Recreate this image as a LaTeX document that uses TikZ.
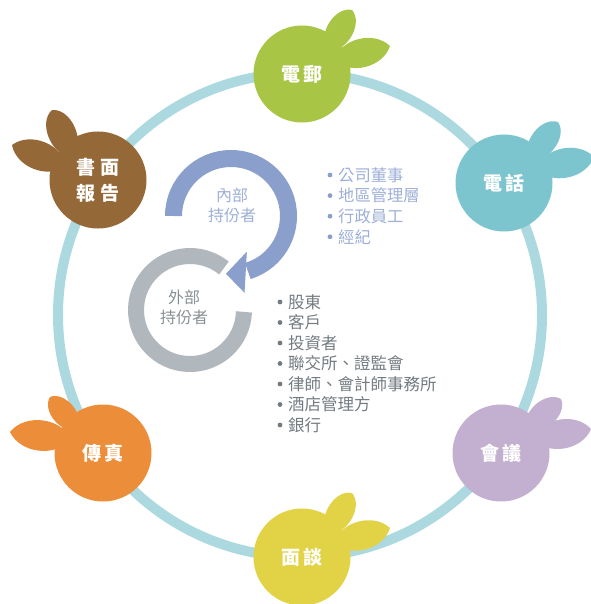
\documentclass[tikz,border=0pt]{standalone}
\usepackage{fontspec}
\newfontfamily\cjk{Noto Sans CJK TC}
\usetikzlibrary{calc}
\definecolor{ringc}{HTML}{ACD9E0}
\definecolor{cgreen}{HTML}{A8C545}
\definecolor{cteal}{HTML}{7DC5CE}
\definecolor{clav}{HTML}{C3AFD0}
\definecolor{cyel}{HTML}{E2D245}
\definecolor{corange}{HTML}{EC8E39}
\definecolor{cbrown}{HTML}{946837}
\definecolor{bluearcc}{HTML}{8A9FCB}
\definecolor{grayarcc}{HTML}{B1B8BD}
\definecolor{bluetext}{HTML}{9DAFD6}
\definecolor{graytext}{HTML}{737B80}
\newcommand\leafat[5]{%
  \fill[#1] ($(#2)+(#3)$) to[bend left=#5] ($(#2)+(#4)$) to[bend left=#5] ($(#2)+(#3)$);}
\begin{document}
\begin{tikzpicture}[x=1pt,y=-1pt,
  hub/.style={circle, minimum size=97pt, inner sep=0pt, text=white,
    font=\cjk\bfseries\fontsize{19}{26}\selectfont, align=center},
  innerlbl/.style={inner sep=0pt, align=center, text=bluetext,
    font=\cjk\fontsize{16}{20}\selectfont},
  outerlbl/.style={inner sep=0pt, align=center, text=graytext!85,
    font=\cjk\fontsize{16}{20}\selectfont},
  bluelist/.style={inner sep=0pt, anchor=west, text=bluetext,
    font=\cjk\fontsize{16.3}{20}\selectfont},
  graylist/.style={inner sep=0pt, anchor=west, text=graytext,
    font=\cjk\fontsize{16.5}{20}\selectfont}]
\useasboundingbox (0,0) rectangle (590,604);
% big ring
\coordinate (rc) at (300,315);
\draw[ringc, line width=10pt] (rc) circle[radius=242];
% hub centres
\coordinate (cE) at (302,74);
\coordinate (cT) at (504,183);
\coordinate (cM) at (501,453);
\coordinate (cI) at (302,557);
\coordinate (cF) at (103,453);
\coordinate (cR) at (98,180);
% leaves (right side)
\leafat{cgreen}{cE}{26,-24}{50,-64}{72}
\leafat{cgreen}{cE}{32,-14}{88,-28}{58}
\leafat{cteal}{cT}{26,-24}{54,-61}{72}
\leafat{cteal}{cT}{32,-14}{90,-26}{58}
\leafat{clav}{cM}{26,-24}{60,-54}{72}
\leafat{clav}{cM}{32,-14}{90,-24}{58}
\leafat{cyel}{cI}{26,-24}{50,-64}{72}
\leafat{cyel}{cI}{32,-14}{88,-29}{58}
% leaves (left side)
\leafat{corange}{cF}{-26,-24}{-53,-56}{72}
\leafat{corange}{cF}{-32,-14}{-93,-21}{58}
\leafat{cbrown}{cR}{-26,-24}{-46,-70}{72}
\leafat{cbrown}{cR}{-32,-14}{-86,-35}{58}
% hubs
\node[hub, fill=cgreen] (email) at (cE) {電\hspace{3pt}郵};
\node[hub, fill=cteal] (phone) at (cT) {電\hspace{3pt}話};
\node[hub, fill=clav] (meet) at (cM) {會\hspace{3pt}議};
\node[hub, fill=cyel] (interview) at (cI) {面\hspace{3pt}談};
\node[hub, fill=corange] (fax) at (cF) {傳\hspace{3pt}真};
\node[hub, fill=cbrown] (report) at (cR) {書\hspace{6pt}面\\[0pt]報\hspace{6pt}告};
% gray ring (external)
\coordinate (gc) at (190,310);
\draw[grayarcc, line width=16pt] ($(gc)+(2:54)$) arc[start angle=2, end angle=309, radius=54];
% blue arrow (internal)
\coordinate (bc) at (231,216);
\draw[bluearcc, line width=17pt] ($(bc)+(180:57.5)$) arc[start angle=180, end angle=433, radius=57.5];
\fill[bluearcc] ($(bc)+(426:39)$) -- ($(bc)+(455:58)$) -- ($(bc)+(440:78)$) -- cycle;
% centre labels
\node[innerlbl] (innerlabel) at (232,205) {內部\\持份者};
\node[outerlbl] (outerlabel) at (184,307) {外部\\持份者};
% lists
\foreach \t [count=\i] in {公司董事,地區管理層,行政員工,經紀} {
  \node[bluelist] (b\i) at (338,{175+20.6*(\i-1)}) {\t};
  \fill[bluearcc] (330,{175+20.6*(\i-1)}) circle[radius=2.4];
}
\foreach \t [count=\i] in {股東,客戶,投資者,聯交所、證監會,律師、會計師事務所,酒店管理方,銀行} {
  \node[graylist] (g\i) at (288,{302+20.5*(\i-1)}) {\t};
  \fill[graytext] (280,{302+20.5*(\i-1)}) circle[radius=2.4];
}
\end{tikzpicture}
\end{document}
